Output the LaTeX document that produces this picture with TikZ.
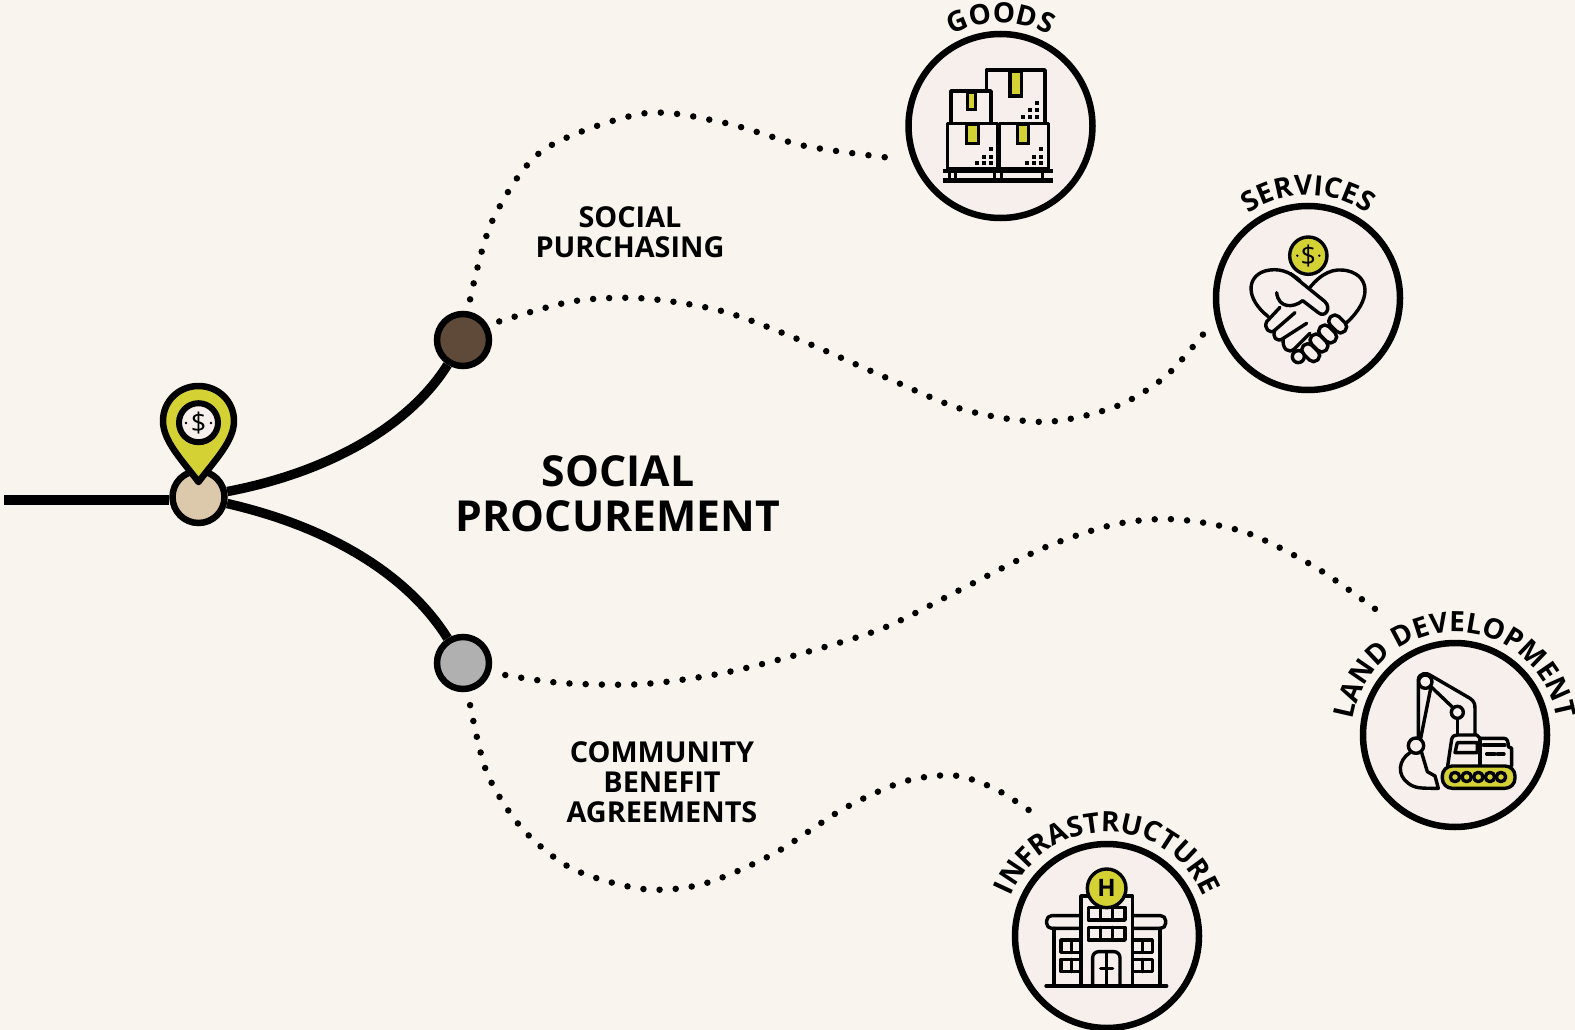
\documentclass[tikz,border=0pt]{standalone}
\usepackage{fontspec}
\setmainfont{Open Sans}
\usetikzlibrary{decorations.text}
\definecolor{bgc}{HTML}{F9F4EE}
\definecolor{disc}{HTML}{F6EFEB}
\definecolor{yel}{HTML}{D4D135}
\definecolor{hubc}{HTML}{DCC9AC}
\definecolor{brownc}{HTML}{5F4A3A}
\definecolor{greyc}{HTML}{B0B0B0}
\newcommand{\arctext}[5]{% cx cy R size text
  \path[decorate,decoration={text along path,text align=center,
    text={|\fontsize{#4}{#4}\selectfont\bfseries|#5}}]
    ({#1-#3},#2) .. controls ({#1-#3},{#2-.5523*#3}) and ({#1-.5523*#3},{#2-#3}) .. ({#1},{#2-#3})
    .. controls ({#1+.5523*#3},{#2-#3}) and ({#1+#3},{#2-.5523*#3}) .. ({#1+#3},#2);}
\tikzset{
  ring/.style={circle,draw=black,line width=6.5pt,fill=disc,minimum size=184pt,inner sep=0pt},
  waynode/.style={circle,draw=black,line width=6.5pt,minimum size=52pt,inner sep=0pt},
  branch/.style={line width=9.5pt,draw=black},
  dots/.style={line width=6.5pt,line cap=round,draw=black},
  ttl/.style={font=\bfseries,align=center,inner sep=0pt,text=black},
  ic/.style={line width=3.6pt,draw=black,line join=round},
  icb/.style={line width=3.4pt,draw=black,line join=round,line cap=round},
  tape/.style={fill=yel,draw=black,line width=3.2pt},
}
\begin{document}
\begin{tikzpicture}[x=1pt,y=-1pt]
\useasboundingbox (0,0) rectangle (1575,1030);
\fill[bgc] (0,0) rectangle (1575,1030);
% dotted routes
\begin{scope}[x=1.0045pt,y=-1.0045pt]
\coordinate (s1) at (468,298); \coordinate (e1) at (885,157);
\coordinate (s2) at (497,320); \coordinate (e2) at (1200,330);
\coordinate (s3) at (503,672); \coordinate (e3) at (1370,607);
\coordinate (s4) at (468,702); \coordinate (e4) at (1025,807);
\draw[dots,dash pattern=on 0pt off 16.35pt] plot[smooth] coordinates {(s1) (490,220) (540,150) (640,113) (720,122) (800,145) (e1)};
\draw[dots,dash pattern=on 0pt off 16.12pt] plot[smooth] coordinates {(s2) (570,300) (640,297) (720,310) (800,340) (880,375) (960,408) (1040,420) (1110,405) (1160,375) (e2)};
\draw[dots,dash pattern=on 0pt off 16.2pt] plot[smooth] coordinates {(s3) (560,680) (640,681) (720,670) (800,650) (880,625) (960,585) (1040,545) (1110,522) (1170,517) (1240,530) (1310,565) (e3)};
\draw[dots,dash pattern=on 0pt off 16.16pt] plot[smooth] coordinates {(s4) (485,770) (520,825) (570,865) (640,885) (700,880) (770,850) (840,805) (900,778) (950,772) (990,785) (e4)};
\end{scope}
% way nodes
\node[waynode,fill=hubc] (hub) at (198.5,497) {};
\node[waynode,fill=brownc] (brown) at (463,340) {};
\node[waynode,fill=greyc] (grey) at (463,663) {};
\coordinate (start) at (4,500);
\draw[branch] (start) -- (start -| hub.west);
\draw[branch] (hub) .. controls (330,472) and (410,425) .. (brown);
\draw[branch] (hub) .. controls (330,527) and (408,575) .. (grey);
% pin
\draw[line width=6.5pt,line join=round,fill=yel] (198.5,482) .. controls (182,460) and (163,441) .. (163,421)
  .. controls (163,401) and (179,386) .. (198.5,386)
  .. controls (218,386) and (234,401) .. (234,421)
  .. controls (234,441) and (215,460) .. (198.5,482) -- cycle;
\node[circle,draw=black,line width=6pt,fill=disc,minimum size=39pt,inner sep=0pt,font=\fontsize{27}{27}\selectfont] (pinc) at (198.5,422.7) {\$};
\fill (186,423) circle (1.4pt) (211,423) circle (1.4pt);
% rings
\node[ring] (goods) at (1000.5,126) {};
\node[ring] (services) at (1308,298) {};
\node[ring] (land) at (1455,735) {};
\node[ring] (infra) at (1107,936) {};
% titles
\node[ttl,font=\bfseries\fontsize{42.7}{45}\selectfont] (title) at (618,493.5) {SOCIAL\\PROCUREMENT};
\node[ttl,font=\bfseries\fontsize{28.8}{30}\selectfont] (sp) at (630,232) {SOCIAL\\PURCHASING};
\node[ttl,font=\bfseries\fontsize{28.8}{30}\selectfont] (cb) at (662,782) {COMMUNITY\\BENEFIT\\AGREEMENTS};
% curved labels
\arctext{1000.5}{126}{103}{28}{GOODS}
\arctext{1308}{298}{103}{28}{SERVICES}
\arctext{1455}{735}{103}{28}{LAND DEVELOPMENT}
\arctext{1107}{936}{104}{28}{INFRASTRUCTURE}
% goods icon
\begin{scope}[shift={(880,0)},x=.3333pt,y=-.3333pt]
\draw[ic,fill=disc] (320,370) -- (320,210) -- (495,210) -- (495,370);
\draw[tape] (390,213) rectangle (425,288);
\draw[ic,fill=disc] (213,370) -- (213,273) -- (333,273) -- (333,370);
\draw[tape] (263,277) rectangle (287,328);
\draw[ic,fill=disc] (203,370) rectangle (353,507);
\draw[ic,fill=disc] (358,370) rectangle (505,507);
\draw[tape] (260,373) rectangle (295,430);
\draw[tape] (412,373) rectangle (445,430);
\foreach \ox/\oy in {0/0,-137/140,12/140}{
  \foreach \px/\py in {470/308,450/330,470/330,428/350,450/350,470/350}
    \fill ({\px+\ox-6},{\py+\oy-6}) rectangle ++(12,12);
}
\draw[line width=4.5pt] (188,513) -- (520,513) (188,541) -- (520,541);
\draw[line width=3pt] (207,513) -- (207,541) (227,513) -- (227,541) (343,513) -- (343,541) (365,513) -- (365,541) (487,513) -- (487,541);
\end{scope}
% services icon
\begin{scope}[shift={(1190,160)},x=.3333pt,y=-.3333pt]
\draw[icb,fill=yel] (355,287) circle (56);
\node[font=\fontsize{27}{27}\selectfont,inner sep=0pt] (coin) at (355,287) {\$};
\fill (322,287) circle (1.3pt) (388,287) circle (1.3pt);
\draw[icb] (235,470) .. controls (165,415) and (170,350) .. (225,333) .. controls (265,322) and (300,335) .. (330,362);
\draw[icb] (360,382) .. controls (395,340) and (430,322) .. (475,333) .. controls (540,350) and (545,420) .. (470,488);
\draw[icb] (300,340) -- (405,425) .. controls (425,445) and (405,475) .. (385,458) -- (338,422) .. controls (310,445) and (265,445) .. (260,398);
\draw[icb,fill=disc] (270,442) -- (230,485) .. controls (220,505) and (240,525) .. (255,510) -- (315,458);
\draw[icb] (255,510) .. controls (245,530) and (260,550) .. (280,535) -- (350,490);
\draw[icb] (280,535) .. controls (275,565) and (295,585) .. (315,565) -- (360,520);
\foreach \px/\py in {443/492,413/522,387/549,362/578}
  \draw[icb,fill=disc,rounded corners=5.5pt,rotate around={-45:(\px,\py)}] ({\px-30},{\py-18}) rectangle ++(60,36);
\draw[icb,fill=disc] (325,590) circle (18);
\end{scope}
% excavator
\begin{scope}[shift={(1320,600)},x=.3333pt,y=-.3333pt]
\draw[icb] (295,410) -- (295,240) .. controls (295,220) and (320,215) .. (335,228) -- (450,295) .. controls (465,305) and (465,315) .. (465,330) -- (465,402);
\draw[icb] (302,415) -- (332,265);
\draw[icb] (335,262) -- (398,322);
\draw[icb] (412,355) -- (412,402);
\draw[icb,fill=disc] (316,245) circle (20);
\draw[icb,fill=disc] (412,337) circle (18);
\draw[icb] (270,458) .. controls (235,480) and (230,525) .. (265,550) .. controls (285,565) and (300,565) .. (355,565) -- (345,528) -- (322,515) -- (305,458);
\draw[icb,fill=disc] (288,437) circle (23);
\draw[icb,fill=disc] (383,498) -- (395,418) .. controls (397,408) and (405,405) .. (412,405) -- (470,405) -- (480,415) -- (552,415) .. controls (562,415) and (565,425) .. (565,440) -- (575,445) -- (575,498);
\draw[icb] (480,415) -- (480,498);
\draw[icb] (412,428) -- (472,428) -- (472,458) -- (405,458) -- cycle;
\draw[icb] (490,435) -- (555,435) (500,462) -- (525,462) (532,462) -- (552,462);
\draw[icb,fill=yel,rounded corners=10pt] (367,498) rectangle (585,565);
\foreach \wx in {405,440,475,510,543}
  \draw[icb,fill=yel] (\wx,531) circle (14);
\end{scope}
% building
\begin{scope}[shift={(980,800)},x=.3333pt,y=-.3333pt]
\draw[icb] (198,558) -- (560,558);
\draw[icb] (303,558) -- (303,288) -- (458,288) -- (458,558);
\draw[icb,rounded corners=5pt] (303,347) -- (200,347) -- (200,385) -- (303,385);
\draw[icb,rounded corners=5pt] (458,347) -- (557,347) -- (557,385) -- (458,385);
\draw[icb] (222,385) -- (222,558) (540,385) -- (540,558);
\draw[icb] (325,322) rectangle (435,360) (362,322) -- (362,360) (398,322) -- (398,360);
\draw[icb] (325,382) rectangle (435,420) (362,382) -- (362,420) (398,382) -- (398,420);
\draw[icb] (243,420) rectangle (303,457) (275,420) -- (275,457);
\draw[icb] (243,478) rectangle (303,515) (275,478) -- (275,515);
\draw[icb] (458,420) rectangle (517,457) (487,420) -- (487,457);
\draw[icb] (458,478) rectangle (517,515) (487,478) -- (487,515);
\draw[icb,rounded corners=6pt] (338,558) -- (338,455) -- (420,455) -- (420,558);
\draw[icb] (380,455) -- (380,558) (362,505) -- (398,505);
\draw[icb,fill=yel] (380,265) circle (58);
\node[font=\bfseries\fontsize{24}{24}\selectfont,inner sep=0pt] (hh) at (380,265) {H};
\end{scope}
\end{tikzpicture}
\end{document}
